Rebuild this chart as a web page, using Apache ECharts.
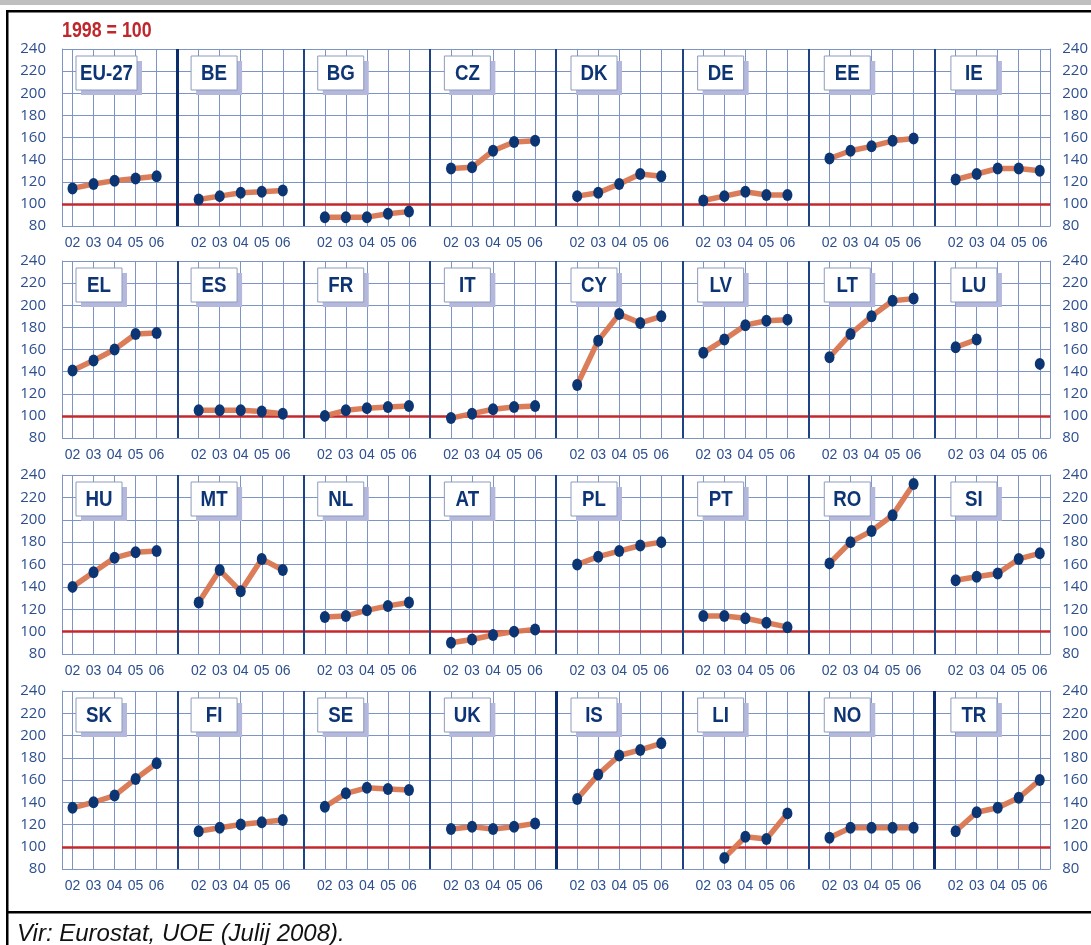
<!DOCTYPE html>
<html><head><meta charset="utf-8">
<script src="https://cdn.jsdelivr.net/npm/echarts@6/dist/echarts.min.js"></script>
<style>html,body{margin:0;padding:0;background:#fff}#c{width:1091px;height:945px}</style>
</head><body><div id="c"></div>
<script>
// ---------- data ----------
const years = ['02', '03', '04', '05', '06'];
const yTicks = [80, 100, 120, 140, 160, 180, 200, 220, 240];
const baseValue = 100; // 1998 = 100
const row1Names = ['EU-27', 'BE', 'BG', 'CZ', 'DK', 'DE', 'EE', 'IE'];
const row2Names = ['EL', 'ES', 'FR', 'IT', 'CY', 'LV', 'LT', 'LU'];
const row3Names = ['HU', 'MT', 'NL', 'AT', 'PL', 'PT', 'RO', 'SI'];
const row4Names = ['SK', 'FI', 'SE', 'UK', 'IS', 'LI', 'NO', 'TR'];
const row1Values = [
  [114, 118, 121, 123, 125], // EU-27
  [104, 107, 110, 111, 112], // BE
  [88, 88, 88, 91, 93],      // BG
  [132, 133, 148, 156, 157], // CZ
  [107, 110, 118, 127, 125], // DK
  [103, 107, 111, 108, 108], // DE
  [141, 148, 152, 157, 159], // EE
  [122, 127, 132, 132, 130]  // IE
];
const row2Values = [
  [141, 150, 160, 174, 175], // EL
  [105, 105, 105, 104, 102], // ES
  [100, 105, 107, 108, 109], // FR
  [98, 102, 106, 108, 109],  // IT
  [128, 168, 192, 184, 190], // CY
  [157, 169, 182, 186, 187], // LV
  [153, 174, 190, 204, 206], // LT
  [162, 169, null, null, 147] // LU
];
const row3Values = [
  [140, 153, 166, 171, 172], // HU
  [126, 155, 136, 165, 155], // MT
  [113, 114, 119, 123, 126], // NL
  [90, 93, 97, 100, 102],    // AT
  [160, 167, 172, 177, 180], // PL
  [114, 114, 112, 108, 104], // PT
  [161, 180, 190, 204, 232], // RO
  [146, 149, 152, 165, 170]  // SI
];
const row4Values = [
  [135, 140, 146, 161, 175], // SK
  [114, 117, 120, 122, 124], // FI
  [136, 148, 153, 152, 151], // SE
  [116, 118, 116, 118, 121], // UK
  [143, 165, 182, 187, 193], // IS
  [null, 90, 109, 107, 130], // LI
  [108, 117, 117, 117, 117], // NO
  [114, 131, 135, 144, 160]  // TR
];
const rowNames = [row1Names, row2Names, row3Names, row4Names];
const rowValues = [row1Values, row2Values, row3Values, row4Values];
const thickDividers = [[1], [], [], [4, 7]]; // panel indices with heavier left divider

// ---------- layout / style ----------
const GL = 62, GR = 1054, W = GR - GL;
const XMIN = 0.5, XMAX = 47.5, U = W / (XMAX - XMIN);
const rowTops = [49, 261, 475, 691];
const rowH = [177, 177, 179, 178];
const gridC = '#7d95c4', divC = '#1d4385', thickC = '#0b2d6c', redC = '#c4282c';
const lineC = '#d9764f', dotC = '#0c3574', labC = '#2d4f8f', boxText = '#0d3575';
const SANS = "'Liberation Sans', Arial, sans-serif";

const grid = [], xAxis = [], yAxis = [], series = [], graphic = [];

graphic.push({type: 'rect', shape: {x: 0, y: 0, width: 1091, height: 5}, style: {fill: '#bfbfbf'}});
graphic.push({type: 'rect', shape: {x: 6, y: 10, width: 1090, height: 2.5}, style: {fill: '#000'}});
graphic.push({type: 'rect', shape: {x: 6, y: 10, width: 2.5, height: 940}, style: {fill: '#000'}});
graphic.push({type: 'rect', shape: {x: 6, y: 911, width: 1090, height: 2.5}, style: {fill: '#000'}});
graphic.push({type: 'text', x: 62, y: 31, scaleX: 0.81, style: {text: '1998 = 100', font: 'bold 22px ' + SANS, fill: '#c0272d', verticalAlign: 'middle', align: 'left'}});
graphic.push({type: 'text', x: 17, y: 934, style: {text: 'Vir: Eurostat, UOE (Julij 2008).', font: 'italic 24px ' + SANS, fill: '#111', verticalAlign: 'middle', align: 'left'}});

rowValues.forEach((vals, r) => {
  grid.push({left: GL, top: rowTops[r], width: W, height: rowH[r]});
  xAxis.push({
    type: 'value', gridIndex: r, min: XMIN, max: XMAX, interval: 0.5,
    axisLine: {show: false}, axisTick: {show: false},
    axisLabel: {
      color: labC, fontSize: 14, fontFamily: SANS, margin: 10,
      formatter: v => {
        if (Math.abs(v - Math.round(v)) > 1e-6) return '';
        const k = Math.round(v) % 6;
        return k === 0 ? '' : years[k - 1];
      }
    },
    splitLine: {show: true, lineStyle: {color: ['rgba(0,0,0,0)', gridC], width: 1}}
  });
  const yBase = {
    type: 'value', gridIndex: r, min: yTicks[0], max: yTicks[yTicks.length - 1],
    interval: yTicks[1] - yTicks[0],
    axisLine: {show: true, lineStyle: {color: gridC, width: 1}}, axisTick: {show: false}
  };
  yAxis.push(Object.assign({}, yBase, {
    position: 'left',
    axisLabel: {color: labC, fontSize: 15, fontFamily: "'Open Sans',sans-serif", margin: 16},
    splitLine: {show: true, lineStyle: {color: gridC, width: 1}}
  }));
  yAxis.push(Object.assign({}, yBase, {
    position: 'right',
    axisLabel: {color: labC, fontSize: 15, fontFamily: "'Open Sans',sans-serif", margin: 12},
    splitLine: {show: false}
  }));

  // reference line + panel dividers
  const mlData = [{yAxis: baseValue, lineStyle: {color: redC, width: 2.5, type: 'solid'}}];
  for (let c = 1; c < 8; c++) {
    const thick = thickDividers[r].includes(c);
    mlData.push({xAxis: 6 * c, lineStyle: {color: thick ? thickC : divC, width: thick ? 3 : 2, type: 'solid'}});
  }
  series.push({
    type: 'line', xAxisIndex: r, yAxisIndex: 2 * r, data: [], z: 1, silent: true,
    markLine: {silent: true, z: 1, symbol: ['none', 'none'], label: {show: false}, emphasis: {disabled: true}, data: mlData}
  });

  vals.forEach((v, c) => {
    series.push({
      name: rowNames[r][c], type: 'line', xAxisIndex: r, yAxisIndex: 2 * r, z: 3,
      data: v.map((y, i) => [6 * c + i + 1, y]),
      connectNulls: false, symbol: 'circle', symbolSize: [10, 12], showSymbol: true,
      itemStyle: {color: dotC}, lineStyle: {color: lineC, width: 5.5, opacity: 0.95},
      emphasis: {disabled: true}
    });

    // panel title box
    const name = rowNames[r][c];
    const bw = name.length > 2 ? 61 : 46, bh = 34;
    const bx = c === 0 ? 76 : GL + (6 * c - XMIN) * U + 13;
    const by = rowTops[r] + 7;
    graphic.push({type: 'rect', z: 10, shape: {x: bx + 5, y: by + 5, width: bw, height: bh}, style: {fill: '#b3b8dc'}});
    graphic.push({type: 'rect', z: 11, shape: {x: bx, y: by, width: bw, height: bh}, style: {fill: '#fff', stroke: '#8d9bbd', lineWidth: 1}});
    graphic.push({type: 'text', z: 12, x: bx + bw / 2, y: by + bh / 2 + 1, scaleX: 0.85, style: {text: name, font: 'bold 22px ' + SANS, fill: boxText, align: 'center', verticalAlign: 'middle'}});
  });
});

const chart = echarts.init(document.getElementById('c'));
chart.setOption({animation: false, backgroundColor: '#fff', grid, xAxis, yAxis, series, graphic});
</script>
</body></html>
